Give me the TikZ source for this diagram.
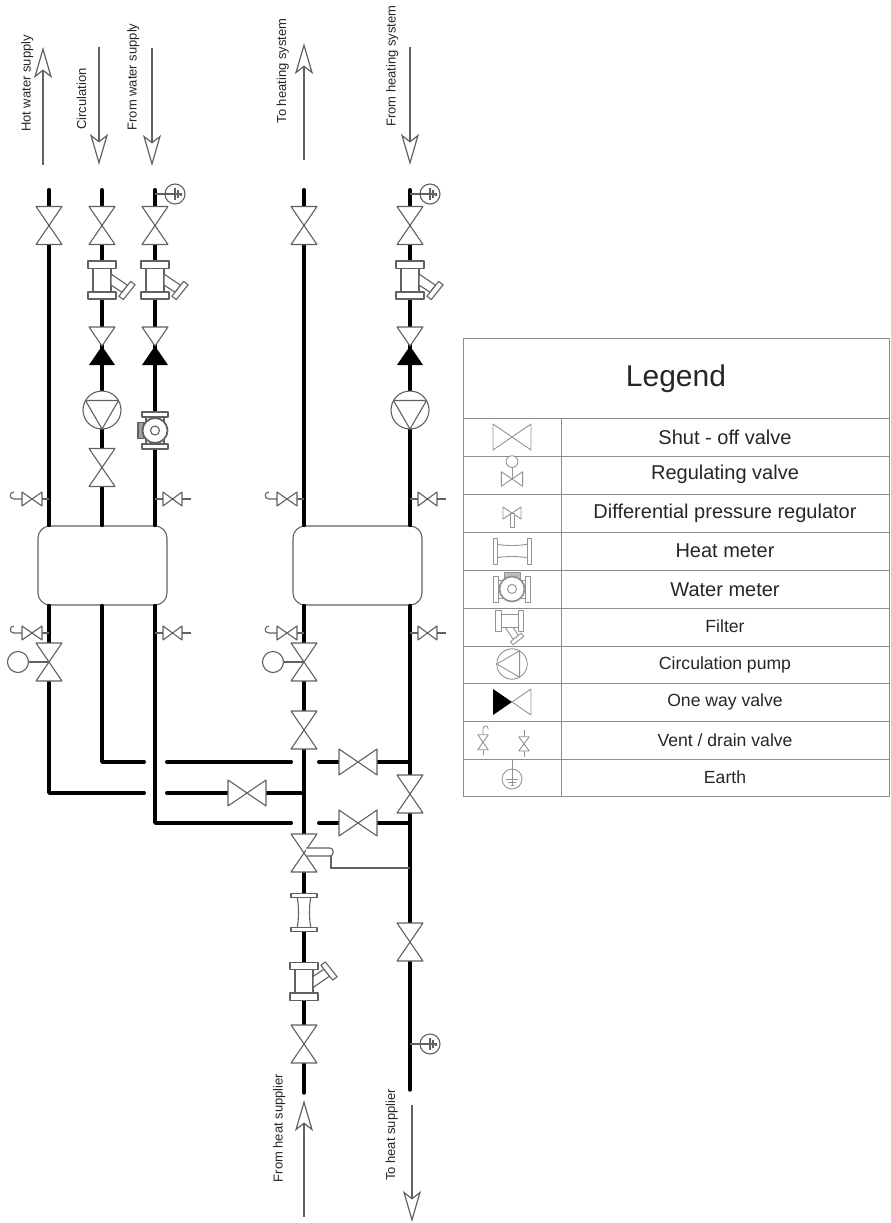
\documentclass[tikz,border=0pt]{standalone}
\usepackage{xcolor}
\usepackage{fontspec}
\setmainfont{Liberation Sans}
\usetikzlibrary{arrows.meta}

\definecolor{symline}{gray}{.38}
\definecolor{legendline}{gray}{.55}
\definecolor{labelink}{gray}{.15}

\tikzset{
    pipe/.style={line width=3.4pt, line cap=round, line join=round},
    sym/.style={draw=symline, line width=1.1pt, fill=white, line join=round},
    thinline/.style={draw=symline, line width=1.1pt},
    flow/.style={draw=symline, line width=1.2pt, -{Stealth[open, length=31pt, width=18pt, inset=7pt]}},
    tank/.style={sym, rounded corners=12pt, minimum width=129pt, minimum height=79pt, inner sep=0pt},
    sidelabel/.style={rotate=90, text=labelink, font=\fontsize{13}{13}\selectfont, inner sep=0pt, text height=9.3pt, text depth=0pt},
    bigtext/.style={text=labelink, font=\fontsize{20}{20}\selectfont, inner sep=0pt, text height=14.3pt, text depth=0pt},
    smalltext/.style={text=labelink, font=\fontsize{17.6}{18}\selectfont, inner sep=0pt, text height=12.6pt, text depth=0pt},
    gridline/.style={draw=legendline, line width=1pt},
    shutoff/.pic={
        \fill[white] (-1.9,-3) rectangle (1.9,3);
        \draw[sym] (-13,-19) -- (13,-19) -- (-13,19) -- (13,19) -- cycle;
    },
    oneway/.pic={
        \draw[sym] (-13,-19) -- (13,-19) -- (0,0) -- cycle;
        \fill[black] (-13,19) -- (13,19) -- (0,0) -- cycle;
    },
    regvalve/.pic={
        \draw[sym] (-31,0) circle (10.5);
        \fill[white] (-1.9,-3) rectangle (1.9,3);
        \draw[sym] (-13,-19) -- (13,-19) -- (-13,19) -- (13,19) -- cycle;
        \draw[thinline] (-20.5,0) -- (0,0);
    },
    pump/.pic={
        \draw[sym] (0,0) circle (19);
        \draw[sym] (-16.5,-9.5) -- (16.5,-9.5) -- (0,19) -- cycle;
    },
    filter/.pic={
        \draw[sym] (-9,-14) rectangle (9,14);
        \draw[sym] (-14,-19) rectangle (14,-11.5);
        \draw[sym] (-14,12) rectangle (14,19);
        \draw[sym] (9,-6) -- (25.6,5.3) -- (20,12.3) -- (9,5) -- cycle;
        \draw[sym] (33.1,4.8) -- (28.7,1.4) -- (16.9,16.2) -- (21.3,19.6) -- cycle;
    },
    heatmeter/.pic={
        \draw[sym] (-7,-16) .. controls (-5,-8) and (-5,8) .. (-7,16) -- (7,16) .. controls (5,8) and (5,-8) .. (7,-16) -- cycle;
        \draw[sym] (-13,-19) rectangle (13,-15);
        \draw[sym] (-13,15) rectangle (13,19);
    },
    watermeter/.pic={
        \draw[sym, fill=symline!60] (-17,-8) rectangle (-11,8);
        \draw[sym] (-9,-14) rectangle (9,14);
        \draw[sym] (-13,-18.5) rectangle (13,-13.5);
        \draw[sym] (-13,13.5) rectangle (13,18.5);
        \draw[sym, line width=1.8pt] (0,0) circle (12.5);
        \draw[sym] (0,0) circle (4.5);
    },
    hookvent/.pic={
        \draw[thinline] (0,0) -- (-7,0);
        \draw[sym] (-7,-7) -- (-7,7) -- (-27,-7) -- (-27,7) -- cycle;
        \draw[thinline] (-27,0) -- (-35,0) .. controls (-40,0) and (-40,-7) .. (-35,-7);
    },
    stubvent/.pic={
        \draw[thinline] (0,0) -- (8,0);
        \draw[sym] (8,-7) -- (8,7) -- (27,-7) -- (27,7) -- cycle;
        \draw[thinline] (27,0) -- (36,0);
    },
    earth/.pic={
        \draw[thinline] (0,-20) -- (0,6);
        \draw[sym, fill=none] (0,0) circle (10);
        \draw[thinline] (-6,0) -- (6,0) (-4,3) -- (4,3) (-1.5,6) -- (1.5,6);
    },
    diffreg/.pic={
        \draw[sym] (-9,-6) -- (-9,6) -- (9,-6) -- (9,6) -- cycle;
        \draw[sym] (-2,0) -- (-2,14) -- (2,14) -- (2,0) -- cycle;
    }
}

\begin{document}
\begin{tikzpicture}[x=1pt, y=-1pt]
    \useasboundingbox (0,0) rectangle (891,1223);

    % flow arrows
    \coordinate (hotS) at (43,165);     \coordinate (hotE) at (43,47);
    \coordinate (circS) at (99,47);     \coordinate (circE) at (99,165);
    \coordinate (wtrS) at (152,48);     \coordinate (wtrE) at (152,166);
    \coordinate (toheatS) at (304,160); \coordinate (toheatE) at (304,43);
    \coordinate (frheatS) at (410,47);  \coordinate (frheatE) at (410,165);
    \coordinate (frsupS) at (304,1217); \coordinate (frsupE) at (304,1100);
    \coordinate (tosupS) at (412,1105); \coordinate (tosupE) at (412,1222);
    \draw[flow] (hotS) -- (hotE);
    \draw[flow] (circS) -- (circE);
    \draw[flow] (wtrS) -- (wtrE);
    \draw[flow] (toheatS) -- (toheatE);
    \draw[flow] (frheatS) -- (frheatE);
    \draw[flow] (frsupS) -- (frsupE);
    \draw[flow] (tosupS) -- (tosupE);
    \node[sidelabel] (hotlabel) at (26,83.5) {Hot water supply};
    \node[sidelabel] (circlabel) at (81.5,99) {Circulation};
    \node[sidelabel] (wtrlabel) at (132,77) {From water supply};
    \node[sidelabel] (toheatlabel) at (281.5,71) {To heating system};
    \node[sidelabel] (frheatlabel) at (391,66) {From heating system};
    \node[sidelabel] (frsuplabel) at (278,1128) {From heat supplier};
    \node[sidelabel] (tosuplabel) at (390.5,1135) {To heat supplier};

    % pipes
    \node[tank] (tankA) at (102.5,565.5) {};
    \node[tank] (tankB) at (357.5,565.5) {};
    \coordinate (topA) at (49,189.7);
    \coordinate (topB) at (102,189.7);
    \coordinate (topC) at (155,189.7);
    \coordinate (topD) at (304,189.7);
    \coordinate (topE) at (410,189.7);
    \coordinate (endD) at (304,1093);
    \coordinate (endE) at (410,1090);
    \draw[pipe] (topA) -- (topA |- tankA.north);
    \draw[pipe] (topB) -- (topB |- tankA.north);
    \draw[pipe] (topC) -- (topC |- tankA.north);
    \draw[pipe] (topD) -- (topD |- tankB.north);
    \draw[pipe] (topE) -- (topE |- tankB.north);
    \draw[pipe] (topD |- tankB.south) -- (endD);
    \draw[pipe] (topE |- tankB.south) -- (endE);
    \draw[pipe] (topA |- tankA.south) |- (144.3,793);
    \draw[pipe] (topB |- tankA.south) |- (144.3,762);
    \draw[pipe] (topC |- tankA.south) |- (291.3,823);
    \draw[pipe] (166.7,793) -- (304,793);
    \draw[pipe] (166.7,762) -- (291.3,762);
    \draw[pipe] (318.7,762) -- (410,762);
    \draw[pipe] (318.7,823) -- (410,823);

    % hot water line
    \pic at (49,225.5) {shutoff};
    \pic at (49,499) {hookvent};
    \pic at (49,633) {hookvent};
    \pic at (49,662) {regvalve};
    % circulation line
    \pic at (102,225.5) {shutoff};
    \pic at (102,280) {filter};
    \pic at (102,346) {oneway};
    \pic at (102,410) {pump};
    \pic at (102,467.5) {shutoff};
    % water supply line
    \pic[rotate=90] at (175,194) {earth};
    \pic at (155,225.5) {shutoff};
    \pic at (155,280) {filter};
    \pic at (155,346) {oneway};
    \pic at (155,430.5) {watermeter};
    \pic at (155,499) {stubvent};
    \pic at (155,633) {stubvent};
    % heating supply line
    \pic at (304,225.5) {shutoff};
    \pic at (304,499) {hookvent};
    \pic at (304,633) {hookvent};
    \pic at (304,662) {regvalve};
    \pic at (304,730) {shutoff};
    \pic at (304,853) {shutoff};
    \draw[thinline] (331,856) -- (331,868) -- (410,868);
    \draw[sym, rounded corners=3pt] (306,848) -- (333,848) -- (333,856) -- (306,856);
    \pic at (304,912.5) {heatmeter};
    \pic[yscale=-1] at (304,981.5) {filter};
    \pic at (304,1044) {shutoff};
    % heating return line
    \pic[rotate=90] at (430,194) {earth};
    \pic at (410,225.5) {shutoff};
    \pic at (410,280) {filter};
    \pic at (410,346) {oneway};
    \pic at (410,410) {pump};
    \pic at (410,499) {stubvent};
    \pic at (410,633) {stubvent};
    \pic at (410,794) {shutoff};
    \pic at (410,942) {shutoff};
    \pic[rotate=90] at (430,1044) {earth};
    % cross links
    \pic[rotate=90] at (247,793) {shutoff};
    \pic[rotate=90] at (358,762) {shutoff};
    \pic[rotate=90] at (358,823) {shutoff};

    % legend
    \draw[gridline] (463,338) rectangle (889,796);
    \draw[gridline] (463,418) -- (889,418);
    \draw[gridline] (463,456) -- (889,456);
    \draw[gridline] (463,494) -- (889,494);
    \draw[gridline] (463,532) -- (889,532);
    \draw[gridline] (463,570) -- (889,570);
    \draw[gridline] (463,608) -- (889,608);
    \draw[gridline] (463,646) -- (889,646);
    \draw[gridline] (463,683) -- (889,683);
    \draw[gridline] (463,721) -- (889,721);
    \draw[gridline] (463,759) -- (889,759);
    \draw[gridline] (561,418) -- (561,796);
    \node[text=labelink, font=\fontsize{30}{30}\selectfont, inner sep=0pt, text height=21.5pt, text depth=0pt] (legendtitle) at (676,376) {Legend};
    \node[bigtext] (shuttext) at (725,437) {Shut - off valve};
    \node[bigtext] (regtext) at (725,472) {Regulating valve};
    \node[bigtext] (difftext) at (725,511) {Differential pressure regulator};
    \node[bigtext] (heattext) at (725,550.5) {Heat meter};
    \node[bigtext] (wtrtext) at (725,589) {Water meter};
    \node[smalltext] (filtertext) at (725,626.5) {Filter};
    \node[smalltext] (pumptext) at (725,663) {Circulation pump};
    \node[smalltext] (onewaytext) at (725,700.5) {One way valve};
    \node[smalltext] (venttext) at (725,740.5) {Vent / drain valve};
    \node[smalltext] (earthtext) at (725,777) {Earth};
    \begin{scope}[sym/.append style={line width=.9pt}, thinline/.append style={line width=.9pt}]
        \colorlet{symline}{gray!85}
        \pic[rotate=90] at (512,437) {shutoff};
        \pic[rotate=-90, scale=.56] at (512,479) {regvalve};
        \pic at (512,513) {diffreg};
        \pic[rotate=90] at (512,551) {heatmeter};
        \pic[rotate=-90] at (512,589) {watermeter};
        \pic[rotate=-90, yscale=-1, scale=.72] at (509.5,621) {filter};
        \pic[rotate=-90, scale=.8] at (512,664) {pump};
        \pic[rotate=-90] at (512,702) {oneway};
        \pic[rotate=-90, scale=.75] at (483,755) {hookvent};
        \pic[rotate=90, scale=.75] at (524,757) {stubvent};
        \pic at (512,779) {earth};
    \end{scope}
\end{tikzpicture}
\end{document}
